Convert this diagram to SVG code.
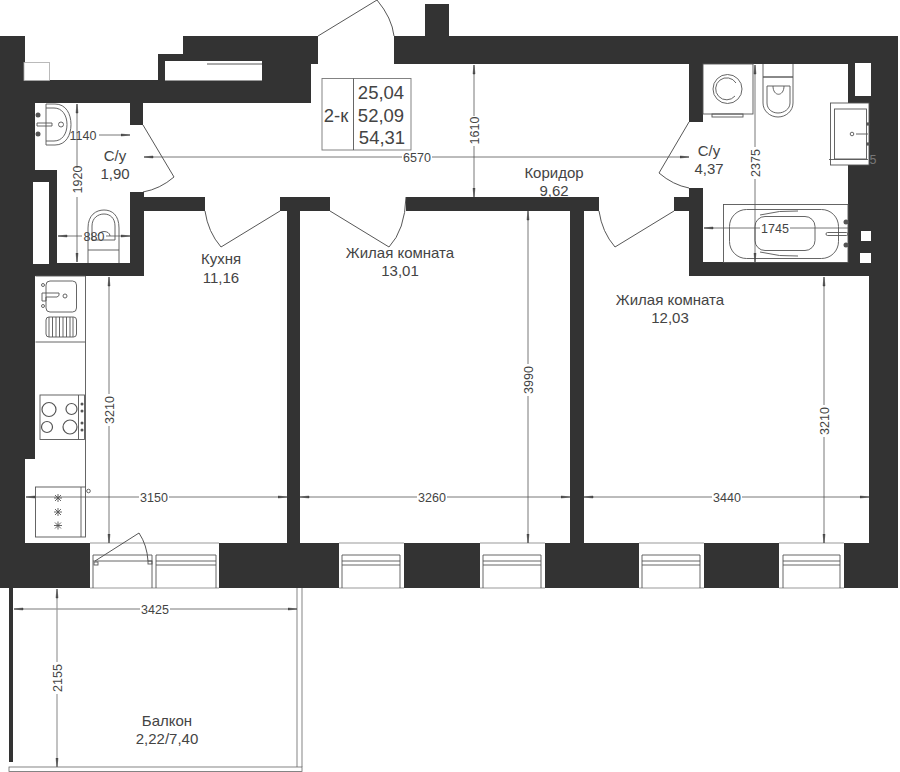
<svg xmlns="http://www.w3.org/2000/svg" width="900" height="772" viewBox="0 0 900 772">
<style>
.w{fill:#333;stroke:none}
.s{fill:#fff;stroke:#aaa;stroke-width:.8}
.f{fill:none;stroke:#555;stroke-width:.9}
.ff{fill:#fff;stroke:#555;stroke-width:.9}
.g{fill:none;stroke:#999;stroke-width:1.2}
.d{fill:none;stroke:#444;stroke-width:.9}
.dm{fill:none;stroke:#555;stroke-width:.8;marker-start:url(#as)}
.dn{fill:none;stroke:#555;stroke-width:.8}
.ds{fill:none;stroke:#555;stroke-width:.8;marker-end:url(#ae)}
text{font-family:"Liberation Sans",Arial,sans-serif;fill:#444;text-anchor:middle}
.l{font-size:15px}
.n{font-size:12.500px}
.t{font-size:18.500px}
</style>
<defs>
<marker id="ae" markerUnits="userSpaceOnUse" markerWidth="10" markerHeight="6" refX="9" refY="2" orient="auto"><path d="M0 1 L9 2 L0 3Z" fill="#444" stroke="#444" stroke-width=".5"/></marker>
<marker id="as" markerUnits="userSpaceOnUse" markerWidth="10" markerHeight="6" refX="0" refY="2" orient="auto"><path d="M9 1 L0 2 L9 3Z" fill="#444" stroke="#444" stroke-width=".5"/></marker>
</defs>
<rect width="900" height="772" fill="#fff"/>

<g id="walls">
<path class="w" d="M0 36H25V80H158V54H183V36H318V64H311V103H143V125H130V103H35V170H57V263H130V192H144V197H205V211H144V276H35V459H25V543H90V588H0Z"/>
<path class="w" d="M394 36H425V4H449V36H898V543H869V276H689V211H674V197H689V188H703V262H848V64H703V122H689V64H394Z"/>
<rect class="w" x="280" y="197" width="50" height="14"/>
<rect class="w" x="287" y="211" width="13" height="332"/>
<rect class="w" x="406" y="197" width="193" height="14"/>
<rect class="w" x="570" y="211" width="14" height="332"/>
<rect class="w" x="219" y="543" width="120" height="45"/>
<rect class="w" x="404" y="543" width="76" height="45"/>
<rect class="w" x="545" y="543" width="94" height="45"/>
<rect class="w" x="704" y="543" width="75" height="45"/>
<rect class="w" x="844" y="543" width="54" height="45"/>
<rect class="w" x="9" y="588" width="4" height="174"/>
</g>

<g id="wall-openings">
<rect class="s" x="24" y="62.500" width="25.500" height="18"/>
<rect x="165" y="61" width="97" height="19.500" fill="#fff"/>
<path class="d" d="M207 64H262"/>
<rect x="33" y="182" width="16" height="82" fill="#fff"/>
<rect x="855" y="63" width="16" height="33" fill="#fff"/>
<rect x="861" y="231" width="10" height="10" fill="#fff"/>
<rect x="860" y="253" width="11" height="10" fill="#fff"/>
<path class="g" d="M90 543H219M339 543H404M480 543H545M639 543H704M779 543H844M90 588H219M339 588H404M480 588H545M639 588H704M779 588H844"/>
</g>

<g id="doors">
<path class="d" d="M318 36L377 0Q392 18 394 36"/>
<path class="d" d="M143 125L174 177Q160 189 143 192"/>
<path class="d" d="M205 211Q208 232 221 247L280 211"/>
<path class="d" d="M330 211L389 247Q405 230 406 197"/>
<path class="d" d="M599 211Q602 232 615 247L674 211"/>
<path class="d" d="M689 122L659 173Q673 185 689 188"/>
<path class="d" d="M95 561L139 533Q147 545 148 561"/>
<rect class="ff" x="94" y="562" width="4" height="3"/>
<rect class="ff" x="148" y="561" width="4" height="3"/>
</g>

<g id="windows">
<g class="f">
<path d="M93 588V555H152V588M93 561H152"/>
<path d="M156 588V555H216V588M156 561H216M156 565H216"/>
<path d="M342 588V555H400V588M342 561H400M342 565H400"/>
<path d="M483 588V555H541V588M483 561H541M483 565H541"/>
<path d="M642 588V555H700V588M642 561H700M642 565H700"/>
<path d="M783 588V555H840V588M783 561H840M783 565H840"/>
</g>
</g>

<g id="balcony">
<path class="g" d="M297 588V767M302 588V767"/>
<rect class="s" x="9" y="767" width="293" height="4.500" style="stroke:#666"/>
</g>

<g id="info-table">
<rect x="322" y="78.500" width="89" height="71.500" fill="#fff" stroke="#777" stroke-width=".9"/>
<path d="M353.500 78.500V150" stroke="#555" stroke-width=".9"/>
<text class="t" x="336" y="122">2-к</text>
<text class="t" x="381" y="99">25,04</text>
<text class="t" x="381" y="121.500">52,09</text>
<text class="t" x="382" y="143.500">54,31</text>
</g>

<g id="fixtures">
<g class="f">
<path d="M46 104H55C66 104 71 114 71 124.500C71 135 66 145 55 145H46M46 104V145"/>
<path d="M46 108H54C62 108 67 115 67 124.500C67 134 62 141 54 141H46"/>
<circle cx="61" cy="124.500" r="2.500"/>
<path d="M37 123H52V126H37Z"/>
<path d="M88 263V228C88 215 96 210 104 210C112 210 119 215 119 228V250H88M119 250V263"/>
<path d="M92 240V226C92 218 98 214 104 214C110 214 115 218 115 226V240Z"/>
<path d="M98 236C98 230 110 230 110 236"/>
<rect x="703" y="64" width="50" height="50"/>
<rect x="712" y="114" width="31" height="3"/>
<circle cx="727.500" cy="89" r="14.500"/>
<path d="M735 96A11 11 0 1 1 736 83"/>
<path d="M763 64V77H793V64"/>
<path d="M763 77H793V103C793 111 786 117 778 117C770 117 763 111 763 103Z"/>
<path d="M767 86H790V103C790 109 784 113 778 113C772 113 767 109 767 103Z"/>
<path d="M773 86C773 97 784 97 784 86"/>
<rect x="830.500" y="103" width="38.500" height="62" fill="#fff"/>
<rect x="834.500" y="109" width="32" height="50" fill="#fff"/>
<circle cx="852" cy="134" r="1.800"/>
<path d="M856 134H868"/>
<path d="M829 159.500H868"/>
<rect x="723.500" y="204.500" width="124.500" height="58"/>
<rect x="729.500" y="209.500" width="109" height="49" rx="17"/>
<rect x="755" y="216.500" width="60" height="34" rx="10"/>
<path d="M760 215Q780 210 798 211M760 252Q780 257 798 256"/>
<rect x="826" y="232.500" width="22" height="3" rx="1.500"/>
<path d="M35.500 276H85.500V487M35.500 342H85.500"/>
<rect x="46" y="281" width="30.500" height="31" rx="4"/>
<rect x="46" y="317" width="30.500" height="20" rx="3"/>
<path d="M49 317V337M52.500 317V337M56 317V337M59.500 317V337M63 317V337M66.500 317V337M70 317V337M73 317V337"/>
<path d="M42 293H59Q60 296 57 297H46V301H42Z"/>
<circle cx="65" cy="296" r="2"/>
<circle cx="43" cy="285" r="1.500"/><circle cx="43" cy="306" r="1.500"/>
<rect x="40" y="395" width="44.500" height="44.500"/>
<path d="M78.500 395V439.500"/>
<g stroke-width="1.200">
<circle cx="49" cy="409.500" r="7"/>
<circle cx="71.500" cy="409" r="5.500"/>
<circle cx="47" cy="427" r="5.500"/>
<circle cx="70" cy="427" r="7"/>
</g>
<rect x="35.500" y="487" width="50" height="50"/>
<path d="M81 487V537"/>
<circle cx="88.500" cy="491" r="1.800"/>
<path d="M54 498H62M58 494V502M55 495L61 501M61 495L55 501"/>
<path d="M54 512H62M58 508V516M55 509L61 515M61 509L55 515"/>
<path d="M54 525.500H62M58 521.500V529.500M55 522.500L61 528.500M61 522.500L55 528.500"/>
</g>
<g fill="#555">
<circle cx="38" cy="115" r="2.500"/><circle cx="38" cy="134" r="2.500"/>
<circle cx="868" cy="124" r="1.800"/><circle cx="868" cy="144" r="1.800"/>
<circle cx="846" cy="222" r="2.500"/><circle cx="846" cy="245" r="2.500"/>
<circle cx="82" cy="404" r="1.500"/><circle cx="82" cy="411" r="1.500"/><circle cx="82" cy="423" r="1.500"/><circle cx="82" cy="430" r="1.500"/>
</g>
</g>

<g id="dimensions">
<path class="ds" d="M99 135H130"/>
<path class="dm" d="M77 104V168"/>
<path class="ds" d="M77 197V262"/>
<path class="dm" d="M58 236H82"/>
<path class="ds" d="M106 236H130"/>
<path class="dm" d="M144 157H402"/>
<path class="ds" d="M432 157H689"/>
<path class="dm" d="M474 65V116"/>
<path class="ds" d="M474 146V197"/>
<path class="dm" d="M528 211V364"/>
<path class="ds" d="M528 396V543"/>
<path class="dm" d="M109 277V394"/>
<path class="ds" d="M109 426V543"/>
<path class="dm" d="M26 497H139"/>
<path class="ds" d="M169 497H287"/>
<path class="dm" d="M300 497H417"/>
<path class="ds" d="M447 497H570"/>
<path class="dm" d="M584 497H712"/>
<path class="ds" d="M742 497H869"/>
<path class="dm" d="M824 277V405"/>
<path class="ds" d="M824 437V543"/>
<path class="dm" d="M755 65V147"/>
<path class="ds" d="M755 179V262"/>
<path class="dm" d="M704 228H760"/>
<path class="dn" d="M790 228H848"/>
<path class="dm" d="M14 609H140"/>
<path class="ds" d="M170 609H297"/>
<path class="dm" d="M57 589V662" style="stroke:#999;stroke-width:1.200"/>
<path class="ds" d="M57 694V767" style="stroke:#999;stroke-width:1.200"/>
<text class="n" x="83" y="140">1140</text>
<text class="n" transform="translate(81.500 179.500) rotate(-90)">1920</text>
<text class="n" x="94" y="241">880</text>
<text class="n" x="417" y="162">6570</text>
<text class="n" transform="translate(479 130.500) rotate(-90)">1610</text>
<text class="n" transform="translate(533 380) rotate(-90)">3990</text>
<text class="n" transform="translate(114 410) rotate(-90)">3210</text>
<text class="n" x="154" y="502">3150</text>
<text class="n" x="432" y="502">3260</text>
<text class="n" x="727" y="502">3440</text>
<text class="n" transform="translate(829 421) rotate(-90)">3210</text>
<text class="n" transform="translate(760 163) rotate(-90)">2375</text>
<text class="n" x="775" y="233">1745</text>
<text class="n" x="155" y="614">3425</text>
<text class="n" transform="translate(62 678) rotate(-90)">2155</text>
<text class="n" x="873" y="164" style="fill:#777">5</text>
</g>

<g id="labels">
<text class="l" x="115" y="161">С/у</text>
<text class="l" x="115" y="179">1,90</text>
<text class="l" x="221" y="264">Кухня</text>
<text class="l" x="221" y="283">11,16</text>
<text class="l" x="400" y="258">Жилая комната</text>
<text class="l" x="400" y="276">13,01</text>
<text class="l" x="554" y="178">Коридор</text>
<text class="l" x="554" y="196">9,62</text>
<text class="l" x="709" y="156">С/у</text>
<text class="l" x="709" y="174">4,37</text>
<text class="l" x="670" y="305">Жилая комната</text>
<text class="l" x="670" y="323">12,03</text>
<text class="l" x="167" y="726">Балкон</text>
<text class="l" x="167" y="744">2,22/7,40</text>
</g>
</svg>
